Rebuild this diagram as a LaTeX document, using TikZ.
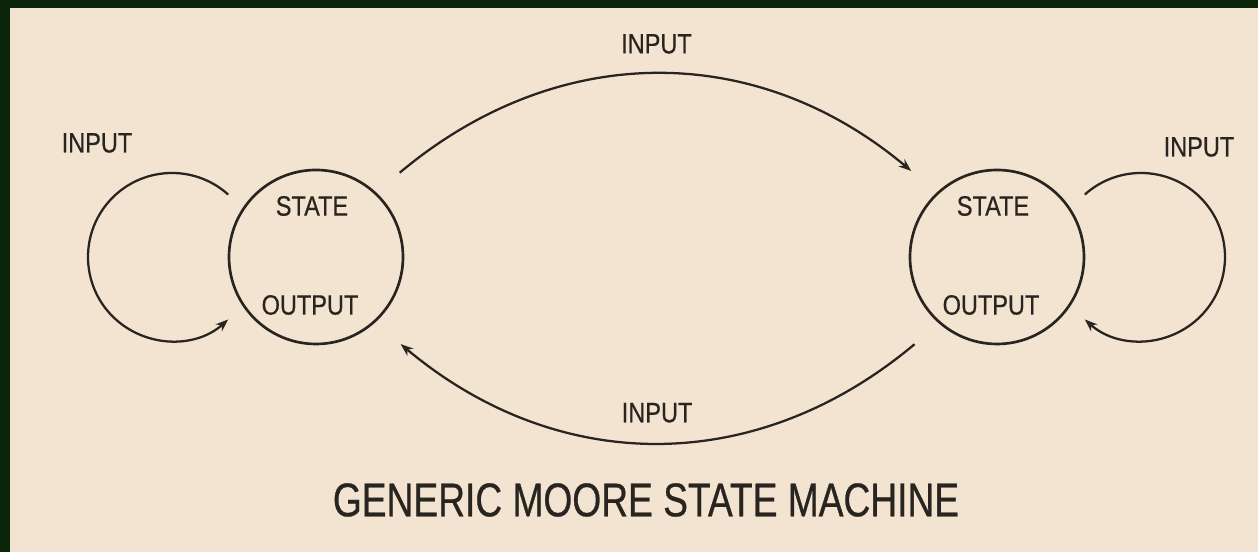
\documentclass[tikz,border=0pt]{standalone}
\usepackage{fontspec}
\setmainfont{Liberation Sans}
\newfontfamily\lblfont{Liberation Sans}[FakeStretch=0.84,FakeBold=0.5]
\newfontfamily\ttlfont{Liberation Sans}[FakeStretch=0.785,FakeBold=0.6]
\usetikzlibrary{arrows.meta}
\definecolor{paper}{RGB}{243,228,209}
\definecolor{frame}{RGB}{10,36,10}
\definecolor{ink}{RGB}{40,36,32}
\tikzset{
  state/.style={circle,draw=ink,line width=2pt,minimum size=130.5pt,inner sep=0pt},
  lbl/.style={inner sep=0pt,text=ink,font=\lblfont\fontsize{21}{21}\selectfont},
  arr/.style={draw=ink,line width=1.7pt,-{Stealth[length=9.5pt,width=7pt]}},
}
\begin{document}
\begin{tikzpicture}[x=0.75pt,y=0.75pt]
\useasboundingbox (0,0) rectangle (1258,552);
% background and frame
\fill[paper] (0,0) rectangle (1258,552);
\fill[frame] (0,0) rectangle (10,552);
\fill[frame] (0,544) rectangle (1258,552);

%Shape: Circle
\node[state] (s1) at (316,295) {};
%Shape: Circle
\node[state] (s2) at (997,295) {};

% Text Node
\node[lbl] (st1) at (312,346) {STATE};
% Text Node
\node[lbl] (out1) at (310,247) {OUTPUT};
% Text Node
\node[lbl] (st2) at (993,346) {STATE};
% Text Node
\node[lbl] (out2) at (991,247) {OUTPUT};

% transitions between the states
\draw[arr,shorten <=23pt,shorten >=25pt] (s1.47) to[out=40,in=140,looseness=1.08]
  node[midway,yshift=26pt,lbl] (in12) {INPUT} (s2.133);
\draw[arr,shorten <=24pt,shorten >=25pt] (s2.-131) to[out=220,in=-40,looseness=1.08]
  node[midway,yshift=19pt,lbl] (in21) {INPUT} (s1.-48);

% self loops
\draw[arr] (s1.center) ++(-144,0) ++(48:84) arc[start angle=48,end angle=312,radius=84];
\draw[arr] (s2.center) ++(144,0) ++(132:84) arc[start angle=132,end angle=-132,radius=84];
% Text Node
\node[lbl] (in11) at (97,409) {INPUT};
% Text Node
\node[lbl] (in22) at (1199,405) {INPUT};

% Text Node
\node[inner sep=0pt,text=ink,font=\ttlfont\fontsize{35.5}{36}\selectfont] (ttl) at (646,52) {GENERIC MOORE STATE MACHINE};
\end{tikzpicture}
\end{document}
